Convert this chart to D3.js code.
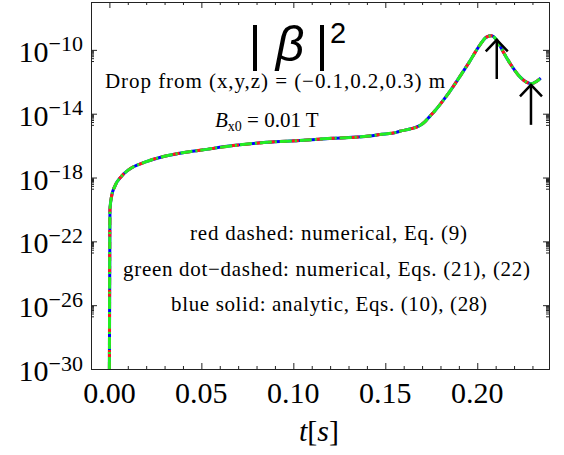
<!DOCTYPE html>
<html><head><meta charset="utf-8">
<script src="https://cdn.jsdelivr.net/npm/d3@7"></script>
<style>body{margin:0;background:#fff} svg{display:block}</style>
</head><body><svg id="c" width="564" height="455"></svg>
<script>
// ---- data ----
const timeS = [0.0000, 0.0003, 0.0012, 0.0030, 0.0066, 0.0102, 0.0193, 0.0284, 0.0374, 0.0519,
  0.0673, 0.0854, 0.1035, 0.1216, 0.1398, 0.1470, 0.1561, 0.1579, 0.1634, 0.1688, 0.1716, 0.1742,
  0.1770, 0.1796, 0.1851, 0.1905, 0.1959, 0.2014, 0.2050, 0.2077, 0.2104, 0.2140, 0.2177,
  0.2231, 0.2267, 0.2295, 0.2322, 0.2345];
const betaSq = [1e-30, 1.0e-20, 6.8e-20, 2.9e-19, 1.2e-18, 2.9e-18, 9.1e-18, 1.95e-17, 3.2e-17, 5.6e-17,
  1.0e-16, 1.6e-16, 2.1e-16, 2.9e-16, 3.8e-16, 4.9e-16, 6.8e-16, 7.9e-16, 1.1e-15, 1.8e-15, 3.2e-15, 6.8e-15,
  1.55e-14, 3.6e-14, 2.5e-13, 2.1e-12, 1.9e-11, 2.0e-10, 6.3e-10, 7.6e-10, 4.3e-10, 7.9e-11, 1.5e-11,
  2.1e-12, 9.5e-13, 7.6e-13, 1.05e-12, 1.7e-12];
const xTickValues = [0.00, 0.05, 0.10, 0.15, 0.20];
const xTickLabels = ["0.00", "0.05", "0.10", "0.15", "0.20"];
const xMinorTicks = [-0.01, 0.01, 0.02, 0.03, 0.04, 0.06, 0.07, 0.08, 0.09, 0.11, 0.12, 0.13, 0.14, 0.16, 0.17, 0.18, 0.19, 0.21, 0.22, 0.23];
const yTickExponents = [-30, -26, -22, -18, -14, -10];
const yTickLabels = ["\u221230", "\u221226", "\u221222", "\u221218", "\u221214", "\u221210"];
const yMinorMantissas = [2, 3, 4, 5, 6, 7, 8, 9];
const arrowTimes = [0.2106, 0.2292];
const arrowFrom = [1.5e-12, 2.0e-15];
const arrowTo = [4.2e-10, 6.5e-13];
const seriesNames = ["blue solid", "red dashed", "green dot-dashed"];
const legendLines = ["red dashed: numerical, Eq. (9)",
  "green dot\u2212dashed: numerical, Eqs. (21), (22)",
  "blue solid: analytic, Eqs. (10), (28)"];

// ---- chart ----
const svg = d3.select("#c");
const L = 91, R = 549, T = 2, B = 369;
const x = d3.scaleLinear().domain([-0.01, 0.239]).range([L, R]);
const y = d3.scaleLog().domain([1e-30, 1e-7]).range([B, T]);
const serif = "Liberation Serif, Times New Roman, serif";
const sans = "Liberation Sans, Arial, sans-serif";
const axisColor = "#222";

svg.append("defs").append("clipPath").attr("id", "clip")
  .append("rect").attr("x", L).attr("y", T).attr("width", R - L).attr("height", B - T);

const yMajors = yTickExponents.map(e => Math.pow(10, e));
const yMinors = [];
yTickExponents.forEach(e => { if (e > -30) yMinorMantissas.forEach(m => yMinors.push(m * Math.pow(10, e - 1))); });

function styleAxis(g) {
  g.selectAll("path,line").attr("stroke", axisColor).attr("stroke-width", 1);
  g.selectAll("text").remove();
}
// bottom
svg.append("g").attr("transform", `translate(0,${B})`)
  .call(d3.axisBottom(x).tickValues(xTickValues).tickSize(-6).tickSizeOuter(0)).call(styleAxis);
svg.append("g").attr("transform", `translate(0,${B})`)
  .call(d3.axisBottom(x).tickValues(xMinorTicks).tickSize(-3).tickSizeOuter(0)).call(styleAxis);
// top
svg.append("g").attr("transform", `translate(0,${T})`)
  .call(d3.axisTop(x).tickValues(xTickValues).tickSize(-6).tickSizeOuter(0)).call(styleAxis);
svg.append("g").attr("transform", `translate(0,${T})`)
  .call(d3.axisTop(x).tickValues(xMinorTicks).tickSize(-3).tickSizeOuter(0)).call(styleAxis);
// left
svg.append("g").attr("transform", `translate(${L},0)`)
  .call(d3.axisLeft(y).tickValues(yMajors).tickSize(-6).tickSizeOuter(0)).call(styleAxis);
svg.append("g").attr("transform", `translate(${L},0)`)
  .call(d3.axisLeft(y).tickValues(yMinors).tickSize(-3).tickSizeOuter(0)).call(styleAxis);
// right
svg.append("g").attr("transform", `translate(${R},0)`)
  .call(d3.axisRight(y).tickValues(yMajors).tickSize(-6).tickSizeOuter(0)).call(styleAxis);
svg.append("g").attr("transform", `translate(${R},0)`)
  .call(d3.axisRight(y).tickValues(yMinors).tickSize(-3).tickSizeOuter(0)).call(styleAxis);

// tick labels
xTickValues.forEach((v, i) => {
  svg.append("text").attr("x", x(v)).attr("y", 403).attr("text-anchor", "middle")
    .attr("font-family", serif).attr("font-size", 30).attr("fill", "#000").text(xTickLabels[i]);
});
yMajors.forEach((v, i) => {
  const t = svg.append("text").attr("x", 83).attr("y", y(v) + 12).attr("text-anchor", "end")
    .attr("font-family", serif).attr("fill", "#000");
  t.append("tspan").attr("font-size", 30).text("10");
  t.append("tspan").attr("font-size", 22).attr("dy", -10.5).text(yTickLabels[i]);
});
// axis title
const xt = svg.append("text").attr("x", 319).attr("y", 441).attr("text-anchor", "middle")
  .attr("font-family", serif).attr("font-size", 30).attr("fill", "#000");
xt.append("tspan").attr("font-style", "italic").text("t");
xt.append("tspan").text("[");
xt.append("tspan").attr("font-style", "italic").text("s");
xt.append("tspan").text("]");

// curves
const pts = timeS.map((t, i) => [t, betaSq[i]]);
const line = d3.line().x(d => x(d[0])).y(d => y(d[1])).curve(d3.curveMonotoneX);
const curves = svg.append("g").attr("clip-path", "url(#clip)").attr("fill", "none");
curves.append("path").datum(pts).attr("d", line).attr("stroke", "#0000ff").attr("stroke-width", 3);
curves.append("path").datum(pts).attr("d", line).attr("stroke", "#ff1a1a").attr("stroke-width", 3)
  .attr("stroke-dasharray", "7,5");
curves.append("path").datum(pts).attr("d", line).attr("stroke", "#22ee22").attr("stroke-width", 3)
  .attr("stroke-dasharray", "12,3,2,3");

// arrows
arrowTimes.forEach((t, i) => {
  const ax = x(t), y0 = y(arrowFrom[i]), y1 = y(arrowTo[i]);
  svg.append("line").attr("x1", ax).attr("x2", ax).attr("y1", y0).attr("y2", y1)
    .attr("stroke", "#000").attr("stroke-width", 2.5);
  svg.append("path").attr("d", `M${ax - 11},${y1 + 11.5}L${ax},${y1}L${ax + 11},${y1 + 11.5}`)
    .attr("fill", "none").attr("stroke", "#000").attr("stroke-width", 2.5);
});

// title |β|^2
const tt = svg.append("g").attr("font-family", sans).attr("fill", "#000");
tt.append("text").attr("x", 255).attr("y", 61).attr("text-anchor", "middle").attr("font-size", 50).text("|");
tt.append("text").attr("x", 290).attr("y", 61).attr("text-anchor", "middle").attr("font-size", 50).attr("font-style", "italic").text("\u03B2");
tt.append("text").attr("x", 322).attr("y", 61).attr("text-anchor", "middle").attr("font-size", 50).text("|");
tt.append("text").attr("x", 338).attr("y", 43).attr("text-anchor", "middle").attr("font-size", 29).text("2");

// annotations
svg.append("text").attr("x", 105).attr("y", 88).attr("font-family", serif).attr("font-size", 21)
  .attr("textLength", 340).attr("lengthAdjust", "spacing").attr("fill", "#000")
  .text("Drop from (x,y,z) = (\u22120.1,0.2,0.3) m");
const bt = svg.append("text").attr("x", 215).attr("y", 127).attr("font-family", serif).attr("font-size", 21).attr("fill", "#000");
bt.append("tspan").attr("font-style", "italic").text("B");
bt.append("tspan").attr("font-size", 14).attr("dy", 4).text("x0");
bt.append("tspan").attr("dy", -4).text(" = 0.01 T");

const legendX = [190, 123, 171], legendW = [277, 407, 316], legendY = [240, 276, 311];
legendLines.forEach((s, i) => {
  svg.append("text").attr("x", legendX[i]).attr("y", legendY[i]).attr("font-family", serif)
    .attr("font-size", 21).attr("textLength", legendW[i]).attr("lengthAdjust", "spacing")
    .attr("fill", "#000").text(s);
});
</script></body></html>
